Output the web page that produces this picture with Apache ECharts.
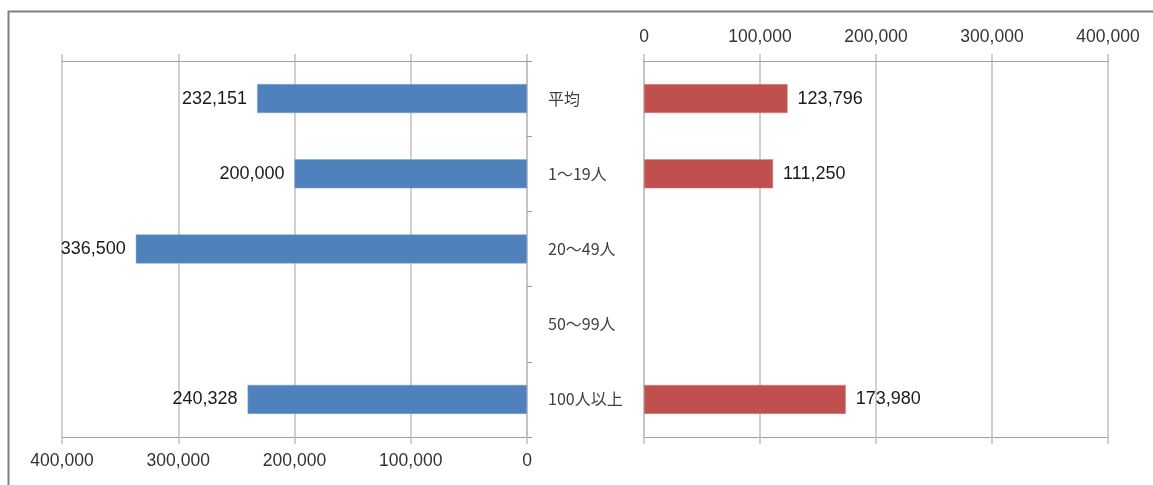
<!DOCTYPE html>
<html><head><meta charset="utf-8">
<script src="https://cdn.jsdelivr.net/npm/echarts@6/dist/echarts.min.js"></script>
<style>html,body{margin:0;padding:0;background:#fff;}#c{width:1153px;height:485px;}</style>
</head><body><div id="c"></div>
<script>
const categories = ['平均', '1～19人', '20～49人', '50～99人', '100人以上'];
const leftValues = [232151, 200000, 336500, null, 240328];
const rightValues = [123796, 111250, null, null, 173980];
const axisMin = 0, axisMax = 400000, axisStep = 100000;

const fmt = v => Number(v).toLocaleString('en-US');
const numFont = 'Liberation Sans';
const gridColor = '#c0c0c0';
const lineColor = '#a0a0a0';

const chart = echarts.init(document.getElementById('c'), null, {renderer: 'canvas'});
chart.setOption({
  animation: false,
  backgroundColor: '#fff',
  graphic: [{
    type: 'rect', left: 6, top: 9, silent: true, z: 100,
    shape: {width: 1300, height: 600},
    style: {fill: 'none', stroke: '#808080', lineWidth: 2}
  }],
  grid: [
    {left: 62, right: 626, top: 61, bottom: 48},
    {left: 644, right: 45, top: 61, bottom: 48}
  ],
  xAxis: [
    {gridIndex: 0, type: 'value', inverse: true, position: 'bottom', min: axisMin, max: axisMax, interval: axisStep,
     axisLine: {show: true, lineStyle: {color: lineColor, width: 1}},
     axisTick: {show: true, length: 7, lineStyle: {color: gridColor, width: 1.5}},
     splitLine: {show: true, lineStyle: {color: gridColor, width: 1.5}},
     axisLabel: {formatter: fmt, color: '#333', fontFamily: numFont, fontSize: 17.5, margin: 15}},
    {gridIndex: 0, type: 'value', inverse: true, position: 'top', min: axisMin, max: axisMax, interval: axisStep,
     axisLine: {show: true, lineStyle: {color: lineColor, width: 1}},
     axisTick: {show: true, length: 7, lineStyle: {color: gridColor, width: 1.5}},
     splitLine: {show: false}, axisLabel: {show: false}},
    {gridIndex: 1, type: 'value', position: 'top', min: axisMin, max: axisMax, interval: axisStep,
     axisLine: {show: true, lineStyle: {color: lineColor, width: 1}},
     axisTick: {show: true, length: 7, lineStyle: {color: gridColor, width: 1.5}},
     splitLine: {show: true, lineStyle: {color: gridColor, width: 1.5}},
     axisLabel: {formatter: fmt, color: '#333', fontFamily: numFont, fontSize: 17.5, margin: 15}},
    {gridIndex: 1, type: 'value', position: 'bottom', min: axisMin, max: axisMax, interval: axisStep,
     axisLine: {show: true, lineStyle: {color: lineColor, width: 1}},
     axisTick: {show: true, length: 7, lineStyle: {color: gridColor, width: 1.5}},
     splitLine: {show: false}, axisLabel: {show: false}}
  ],
  yAxis: [
    {gridIndex: 0, type: 'category', data: categories, inverse: true, position: 'right',
     axisLine: {show: true, lineStyle: {color: gridColor, width: 1.5}},
     axisTick: {show: true, length: 5, inside: false, lineStyle: {color: '#999', width: 1}},
     axisLabel: {color: '#404040', fontFamily: 'Noto Sans CJK JP', fontSize: 16, margin: 21}},
    {gridIndex: 1, type: 'category', data: categories, inverse: true, position: 'left',
     axisLine: {show: true, lineStyle: {color: gridColor, width: 1.5}},
     axisTick: {show: false}, axisLabel: {show: false}}
  ],
  series: [
    {type: 'bar', xAxisIndex: 0, yAxisIndex: 0, data: leftValues, barWidth: 29,
     itemStyle: {color: '#4F81BD', borderColor: '#7fa3d0', borderWidth: 0.5},
     label: {show: true, position: 'left', distance: 10, formatter: p => fmt(p.value),
             color: '#1a1a1a', fontFamily: numFont, fontSize: 18}},
    {type: 'bar', xAxisIndex: 2, yAxisIndex: 1, data: rightValues, barWidth: 29,
     itemStyle: {color: '#C0504D', borderColor: '#d58582', borderWidth: 0.5},
     label: {show: true, position: 'right', distance: 10, formatter: p => fmt(p.value),
             color: '#1a1a1a', fontFamily: numFont, fontSize: 18}}
  ]
});
</script></body></html>
